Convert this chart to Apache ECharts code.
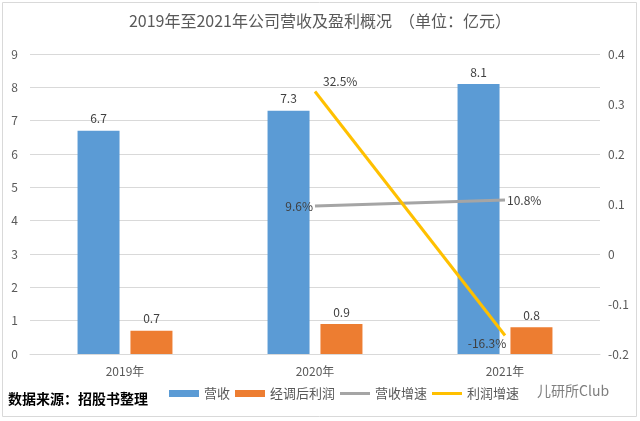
<!DOCTYPE html>
<html><head><meta charset="utf-8">
<script src="https://cdn.jsdelivr.net/npm/echarts@6/dist/echarts.min.js"></script>
<style>html,body{margin:0;padding:0;background:#fff}#c{width:640px;height:421px}</style>
</head><body><div id="c"></div>
<script>
const categories = ['2019年', '2020年', '2021年'];
const revenue = [6.7, 7.3, 8.1];
const adjProfit = [0.7, 0.9, 0.8];
const revenueGrowth = [null, 0.096, 0.108];
const profitGrowth = [null, 0.325, -0.163];
const leftTicks = {min: 0, max: 9, interval: 1};
const rightTicks = {min: -0.2, max: 0.4, interval: 0.1};

const F = 'Noto Sans CJK SC';
const lblColor = '#404040';
const pct = p => (p.value * 100).toFixed(1) + '%';
const lineIcon = 'path://M0,0H30V3H0Z';

const chart = echarts.init(document.getElementById('c'));
chart.setOption({
  animation: false,
  textStyle: {fontFamily: F},
  title: {
    text: '2019年至2021年公司营收及盈利概况  （单位：亿元）',
    left: 'center', top: 8,
    textStyle: {fontSize: 16, fontWeight: 'normal', color: '#595959', fontFamily: F}
  },
  graphic: [
    {type: 'rect', shape: {x: 2.5, y: 2.5, width: 634, height: 414}, style: {fill: 'none', stroke: '#D9D9D9', lineWidth: 1}, silent: true},
    {type: 'text', left: 8, top: 392, style: {text: '数据来源：招股书整理', fontSize: 14, fontWeight: 'bold', fill: '#000', fontFamily: F}},
    {type: 'text', left: 537, top: 384, style: {text: '儿研所Club', fontSize: 14, fill: '#7f7f7f', fontFamily: F}}
  ],
  legend: {
    left: 164, top: 382,
    itemWidth: 30, itemHeight: 7, itemGap: 5,
    textStyle: {fontSize: 13, color: '#595959', fontFamily: F},
    data: [
      {name: '营收', icon: 'rect'},
      {name: '经调后利润', icon: 'rect'},
      {name: '营收增速', icon: lineIcon},
      {name: '利润增速', icon: lineIcon}
    ]
  },
  grid: {left: 30, right: 40, top: 54, bottom: 67},
  xAxis: {
    type: 'category', data: categories,
    axisLine: {lineStyle: {color: '#D9D9D9'}},
    axisTick: {show: false},
    axisLabel: {color: '#595959', fontSize: 12, margin: 11}
  },
  yAxis: [
    {type: 'value', min: leftTicks.min, max: leftTicks.max, interval: leftTicks.interval,
     axisLine: {show: false}, axisTick: {show: false},
     axisLabel: {color: '#595959', fontSize: 12, margin: 12},
     splitLine: {lineStyle: {color: '#D9D9D9'}}},
    {type: 'value', min: rightTicks.min, max: rightTicks.max, interval: rightTicks.interval,
     axisLine: {show: false}, axisTick: {show: false},
     axisLabel: {color: '#595959', fontSize: 12, margin: 8, formatter: v => String(+v.toFixed(1))},
     splitLine: {show: false}}
  ],
  series: [
    {name: '营收', type: 'bar', data: revenue, barWidth: 42, barGap: '26%',
     itemStyle: {color: '#5B9BD5'},
     label: {show: true, position: 'top', color: lblColor, fontSize: 12, distance: 6}},
    {name: '经调后利润', type: 'bar', data: adjProfit, barWidth: 42,
     itemStyle: {color: '#ED7D31'},
     label: {show: true, position: 'top', color: lblColor, fontSize: 12, distance: 6}},
    {name: '营收增速', type: 'line', yAxisIndex: 1, symbol: 'circle', symbolSize: 0, showSymbol: true, z: 5,
     lineStyle: {color: '#A5A5A5', width: 3}, itemStyle: {color: '#A5A5A5'},
     data: revenueGrowth.map((v, i) => ({value: v, label: {show: v !== null, position: i === 1 ? 'left' : 'right', distance: 2, formatter: pct, color: lblColor, fontSize: 12}}))},
    {name: '利润增速', type: 'line', yAxisIndex: 1, symbol: 'circle', symbolSize: 0, showSymbol: true, z: 6,
     lineStyle: {color: '#FFC000', width: 3}, itemStyle: {color: '#FFC000'},
     data: profitGrowth.map((v, i) => ({value: v, label: {show: v !== null, position: i === 1 ? 'right' : 'bottom', distance: 4, offset: i === 1 ? [4, -10] : [-18, -2], formatter: pct, color: lblColor, fontSize: 12}}))}
  ]
});
</script></body></html>
